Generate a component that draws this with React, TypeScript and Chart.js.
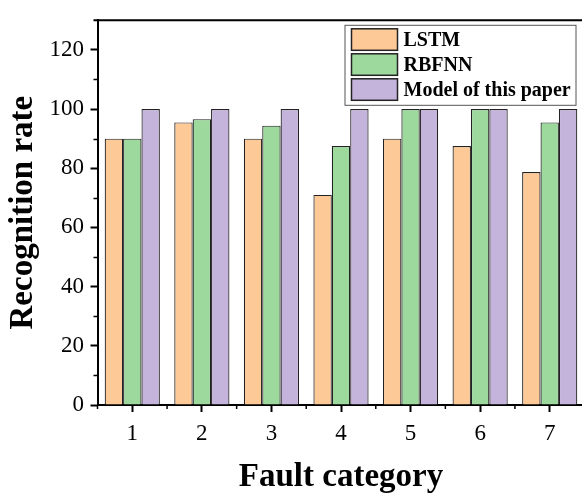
import { useEffect, useRef } from "react";
import { Chart, registerables } from "chart.js";

Chart.register(...registerables);

// Recognition rate (%) per fault category for each model
const categories = ["1", "2", "3", "4", "5", "6", "7"];
const lstmRates = [90, 95.5, 90, 71, 90, 87.5, 78.7];
const rbfnnRates = [90, 96.6, 94.4, 87.5, 100, 100, 95.5];
const proposedRates = [100, 100, 100, 100, 100, 100, 100];

const seriesLabels = ["LSTM", "RBFNN", "Model of this paper"];
const seriesColors = ["#FDC996", "#9DD99C", "#C4B3DA"];

const yMajorTicks = [0, 20, 40, 60, 80, 100, 120];
const yMinorTicks = [10, 30, 50, 70, 90, 110];
const yMin = 0;
const yMax = 130;

const FONT = "'Liberation Serif', 'Times New Roman', serif";

// Frame line along the top/right, plus the short minor tick marks
const framePlugin = {
  id: "frameAndMinorTicks",
  afterDraw(chart: any) {
    const { ctx, chartArea, scales } = chart;
    const x = scales.x;
    const y = scales.y;
    ctx.save();
    ctx.strokeStyle = "#000";
    ctx.lineWidth = 2;
    ctx.beginPath();
    ctx.moveTo(chartArea.left - 4, chartArea.top);
    ctx.lineTo(chartArea.right, chartArea.top);
    ctx.lineTo(chartArea.right, chartArea.bottom);
    ctx.stroke();

    ctx.lineWidth = 1.5;
    ctx.beginPath();
    for (const v of yMinorTicks) {
      const py = Math.round(y.getPixelForValue(v)) + 0.5;
      ctx.moveTo(chartArea.left - 4, py);
      ctx.lineTo(chartArea.left, py);
    }
    const half = (x.getPixelForValue(1) - x.getPixelForValue(0)) / 2;
    for (let i = 0; i <= categories.length; i++) {
      const px = x.getPixelForValue(i) - half;
      ctx.moveTo(px, chartArea.bottom);
      ctx.lineTo(px, chartArea.bottom + 4);
    }
    ctx.stroke();
    ctx.restore();
  },
};

// Boxed legend in the upper right of the plot
const legendPlugin = {
  id: "boxedLegend",
  afterDraw(chart: any) {
    const { ctx, chartArea } = chart;
    const boxLeft = chartArea.right - 240;
    const boxTop = chartArea.top + 4.5;
    const boxW = 231;
    const boxH = 80;
    ctx.save();
    ctx.fillStyle = "#fff";
    ctx.fillRect(boxLeft, boxTop, boxW, boxH);
    ctx.strokeStyle = "#555";
    ctx.lineWidth = 1;
    ctx.strokeRect(boxLeft + 0.5, boxTop + 0.5, boxW, boxH);

    ctx.font = `bold 20px ${FONT}`;
    ctx.textBaseline = "middle";
    ctx.textAlign = "left";
    chart.data.datasets.forEach((ds: any, i: number) => {
      const sy = boxTop + 4 + i * 25;
      ctx.fillStyle = ds.backgroundColor;
      ctx.fillRect(boxLeft + 7, sy, 46, 21.5);
      ctx.strokeStyle = "#222";
      ctx.lineWidth = 1.5;
      ctx.strokeRect(boxLeft + 7, sy, 46, 21.5);
      ctx.fillStyle = "#000";
      ctx.fillText(ds.label, boxLeft + 59, sy + 12);
    });
    ctx.restore();
  },
};

export default function App() {
  const canvasRef = useRef<HTMLCanvasElement | null>(null);

  useEffect(() => {
    const canvas = canvasRef.current;
    if (!canvas) return;
    const values = [lstmRates, rbfnnRates, proposedRates];
    const chart = new Chart(canvas, {
      type: "bar",
      data: {
        labels: categories,
        datasets: values.map((data, i) => ({
          label: seriesLabels[i],
          data,
          backgroundColor: seriesColors[i],
          borderColor: "#222",
          borderWidth: 1.2,
          categoryPercentage: 0.793,
          barPercentage: 1,
        })),
      },
      options: {
        responsive: false,
        animation: false,
        events: [],
        layout: { padding: { left: 0, top: 12.5, right: 15.5, bottom: 0 } },
        plugins: {
          legend: { display: false },
          tooltip: { enabled: false },
        },
        scales: {
          x: {
            type: "category",
            offset: true,
            grid: {
              offset: false,
              drawOnChartArea: false,
              drawTicks: true,
              tickLength: 7,
              tickWidth: 2,
              tickColor: "#000",
            },
            border: { display: true, color: "#000", width: 2 },
            ticks: {
              color: "#000",
              font: { family: FONT, size: 23 },
              padding: 8,
              maxRotation: 0,
            },
            title: {
              display: true,
              text: "Fault category",
              color: "#000",
              font: { family: FONT, size: 33, weight: "bold", lineHeight: 1 },
              padding: { top: 0, bottom: 0.5 },
            },
            afterFit: (s: any) => {
              s.height = 89;
            },
          },
          y: {
            min: yMin,
            max: yMax,
            afterBuildTicks: (s: any) => {
              s.ticks = yMajorTicks.map((v) => ({ value: v }));
            },
            grid: {
              drawOnChartArea: false,
              drawTicks: true,
              tickLength: 7,
              tickWidth: 2,
              tickColor: "#000",
            },
            border: { display: true, color: "#000", width: 2 },
            ticks: {
              color: "#000",
              font: { family: FONT, size: 23 },
              padding: 6.5,
            },
            title: {
              display: true,
              text: "Recognition rate",
              color: "#000",
              font: { family: FONT, size: 33, weight: "bold", lineHeight: 1 },
              padding: { top: 6.5, bottom: 0 },
            },
            afterFit: (s: any) => {
              s.width = 97.5;
            },
          },
        },
      },
      plugins: [framePlugin, legendPlugin],
    });
    return () => chart.destroy();
  }, []);

  return (
    <div
      style={{
        position: "fixed",
        left: 0,
        top: 0,
        width: 582,
        height: 494,
        overflow: "hidden",
        background: "#fff",
      }}
    >
      <canvas ref={canvasRef} width={600} height={494} style={{ display: "block" }} />
    </div>
  );
}
